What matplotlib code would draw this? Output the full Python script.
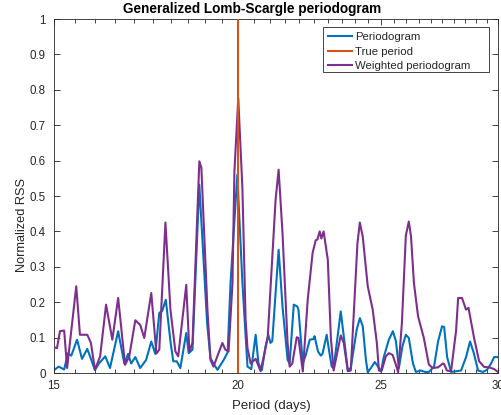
import numpy as np
import matplotlib
matplotlib.use('Agg')
import matplotlib.pyplot as plt
from matplotlib.patches import Rectangle
from matplotlib.ticker import FixedLocator, NullFormatter

plt.rcParams['font.family'] = ['Liberation Sans', 'DejaVu Sans']

# periodogram (blue)
period_pg = [15.00, 15.11, 15.24, 15.33, 15.41, 15.55, 15.67, 15.80, 15.89, 15.99,
             16.09, 16.25, 16.37, 16.58, 16.74, 16.84, 16.92, 17.03, 17.16, 17.32,
             17.46, 17.57, 17.68, 17.76, 17.86, 17.99, 18.07, 18.17, 18.27, 18.44,
             18.51, 18.62, 18.82, 19.05, 19.15, 19.24, 19.36, 19.55, 19.67, 19.76,
             19.97, 20.13, 20.29, 20.41, 20.55, 20.64, 20.75, 20.87, 20.96, 21.03,
             21.09, 21.20, 21.30, 21.43, 21.60, 21.67, 21.81, 21.93, 21.97, 22.12,
             22.22, 22.36, 22.49, 22.53, 22.65, 22.75, 22.81, 22.96, 23.04, 23.14,
             23.21, 23.47, 23.58, 23.73, 23.84, 24.06, 24.18, 24.29, 24.41, 24.48,
             24.60, 24.75, 24.86, 24.99, 25.10, 25.30, 25.46, 25.58, 25.70, 25.84,
             25.98, 26.10, 26.27, 26.39, 26.60, 26.77, 26.93, 27.15, 27.32, 27.49,
             27.58, 27.71, 27.88, 28.10, 28.32, 28.54, 28.72, 28.89, 29.08, 29.30,
             29.49, 29.68, 29.82, 30.00]
rss_pg = [0.008, 0.018, 0.010, 0.056, 0.049, 0.094, 0.040, 0.068, 0.040, 0.008,
          0.027, 0.047, 0.014, 0.118, 0.027, 0.054, 0.027, 0.045, 0.014, 0.037,
          0.089, 0.054, 0.170, 0.175, 0.207, 0.090, 0.033, 0.033, 0.014, 0.113,
          0.056, 0.066, 0.532, 0.141, 0.042, 0.027, 0.009, 0.037, 0.058, 0.254,
          0.560, 0.254, 0.018, 0.011, 0.108, 0.027, 0.008, 0.075, 0.108, 0.085,
          0.090, 0.226, 0.348, 0.188, 0.037, 0.027, 0.193, 0.188, 0.179, 0.027,
          0.050, 0.094, 0.096, 0.104, 0.061, 0.049, 0.054, 0.108, 0.066, 0.018,
          0.014, 0.174, 0.104, 0.008, 0.014, 0.122, 0.155, 0.132, 0.037, 0.002,
          0.014, 0.031, 0.020, 0.004, 0.045, 0.094, 0.118, 0.090, 0.014, 0.075,
          0.108, 0.099, 0.027, 0.003, 0.007, 0.003, 0.003, 0.018, 0.089, 0.132,
          0.130, 0.045, 0.003, 0.005, 0.007, 0.045, 0.089, 0.056, 0.007, 0.003,
          0.009, 0.027, 0.045, 0.045]

# weighted periodogram (purple)
period_w = [15.00, 15.07, 15.14, 15.24, 15.31, 15.53, 15.62, 15.80, 15.89, 15.99,
            16.12, 16.27, 16.43, 16.58, 16.76, 16.87, 17.03, 17.16, 17.27, 17.46,
            17.60, 17.68, 17.85, 17.99, 18.13, 18.21, 18.44, 18.53, 18.62, 18.82,
            18.88, 19.06, 19.15, 19.24, 19.51, 19.60, 19.70, 19.82, 19.88, 20.00,
            20.13, 20.23, 20.29, 20.39, 20.55, 20.71, 20.94, 21.20, 21.30, 21.43,
            21.60, 21.67, 21.76, 21.91, 21.97, 22.12, 22.29, 22.46, 22.57, 22.63,
            22.71, 22.77, 22.85, 23.00, 23.11, 23.21, 23.47, 23.58, 23.73, 23.84,
            24.09, 24.18, 24.29, 24.48, 24.67, 24.83, 24.91, 25.02, 25.18, 25.30,
            25.45, 25.58, 25.67, 25.82, 25.98, 26.10, 26.19, 26.31, 26.48, 26.72,
            26.93, 27.09, 27.32, 27.53, 27.58, 27.70, 27.88, 28.10, 28.19, 28.36,
            28.54, 28.65, 28.72, 28.90, 29.13, 29.36, 29.59, 29.82, 30.00]
rss_w = [0.073, 0.070, 0.118, 0.120, 0.014, 0.245, 0.108, 0.108, 0.085, 0.009,
         0.047, 0.193, 0.094, 0.212, 0.023, 0.047, 0.149, 0.136, 0.099, 0.226,
         0.055, 0.066, 0.425, 0.179, 0.061, 0.047, 0.249, 0.061, 0.085, 0.598,
         0.580, 0.179, 0.037, 0.018, 0.085, 0.066, 0.061, 0.254, 0.570, 0.775,
         0.520, 0.150, 0.070, 0.027, 0.040, 0.005, 0.100, 0.490, 0.574, 0.395,
         0.085, 0.018, 0.027, 0.101, 0.099, 0.004, 0.207, 0.339, 0.375, 0.377,
         0.400, 0.380, 0.400, 0.320, 0.100, 0.007, 0.106, 0.085, 0.005, 0.007,
         0.367, 0.425, 0.385, 0.245, 0.179, 0.085, 0.007, 0.007, 0.047, 0.056,
         0.051, 0.023, 0.002, 0.141, 0.388, 0.428, 0.386, 0.254, 0.160, 0.099,
         0.024, 0.014, 0.016, 0.027, 0.025, 0.007, 0.005, 0.120, 0.212, 0.212,
         0.179, 0.184, 0.160, 0.099, 0.033, 0.017, 0.016, 0.011, 0.003]

true_period = 20
x_ticks = [15, 20, 25, 30]
y_ticks = [0, 0.1, 0.2, 0.3, 0.4, 0.5, 0.6, 0.7, 0.8, 0.9, 1]
y_labels = ['0', '0.1', '0.2', '0.3', '0.4', '0.5', '0.6', '0.7', '0.8', '0.9', '1']

axcol = '#262626'

fig = plt.figure(figsize=(5.01, 4.15), dpi=100)
ax = fig.add_axes([54 / 501, 42 / 415, 444 / 501, 354 / 415])

ax.plot(period_pg, rss_pg, color='#0072BD', lw=1.5, label='Periodogram', zorder=2)
ax.plot([true_period, true_period], [0, 1], color='#D95319', lw=1.5,
        label='True period', zorder=4)
ax.plot(period_w, rss_w, color='#7E2F8E', lw=1.5, label='Weighted periodogram', zorder=3)

ax.set_xscale('log')
ax.set_xlim(15, 30)
ax.set_ylim(0, 1)
ax.xaxis.set_major_locator(FixedLocator(x_ticks))
ax.set_xticklabels([str(t) for t in x_ticks])
ax.xaxis.set_minor_locator(FixedLocator(np.arange(15, 30.01, 0.5)))
ax.xaxis.set_minor_formatter(NullFormatter())
ax.set_yticks(y_ticks)
ax.set_yticklabels(y_labels)

ax.tick_params(which='both', direction='in', top=True, right=True, colors=axcol,
               labelsize=8.3, width=0.6)
ax.tick_params(which='major', length=4.3)
ax.tick_params(axis='y', pad=6)
ax.tick_params(axis='x', pad=5)
ax.tick_params(which='minor', length=2.8)
for s in ax.spines.values():
    s.set_color(axcol)
    s.set_linewidth(0.6)

ax.set_xlabel('Period (days)', fontsize=9.5, color=axcol)
ax.xaxis.set_label_coords(0.489, -0.075)
ax.set_ylabel('Normalized RSS', fontsize=9.2, color=axcol)
ax.yaxis.set_label_coords(-0.058, 0.418)
ax.set_title('Generalized Lomb-Scargle periodogram', fontsize=9.8, fontweight='bold',
             x=0.446, pad=4)

# MATLAB-like legend box: wider on the right than matplotlib would draw it
box = Rectangle((0.606, 0.850), 0.374, 0.127, transform=ax.transAxes,
                facecolor='white', edgecolor=axcol, lw=0.6, zorder=5)
ax.add_patch(box)
leg = ax.legend(loc='upper left', bbox_to_anchor=(0.617, 0.963), fontsize=8.2,
                frameon=False, handlelength=2.1, handletextpad=0.3,
                labelspacing=0.4, borderpad=0, borderaxespad=0)
leg.set_zorder(6)
for t in leg.get_texts():
    t.set_color(axcol)

fig.savefig('out.png', dpi=100)
